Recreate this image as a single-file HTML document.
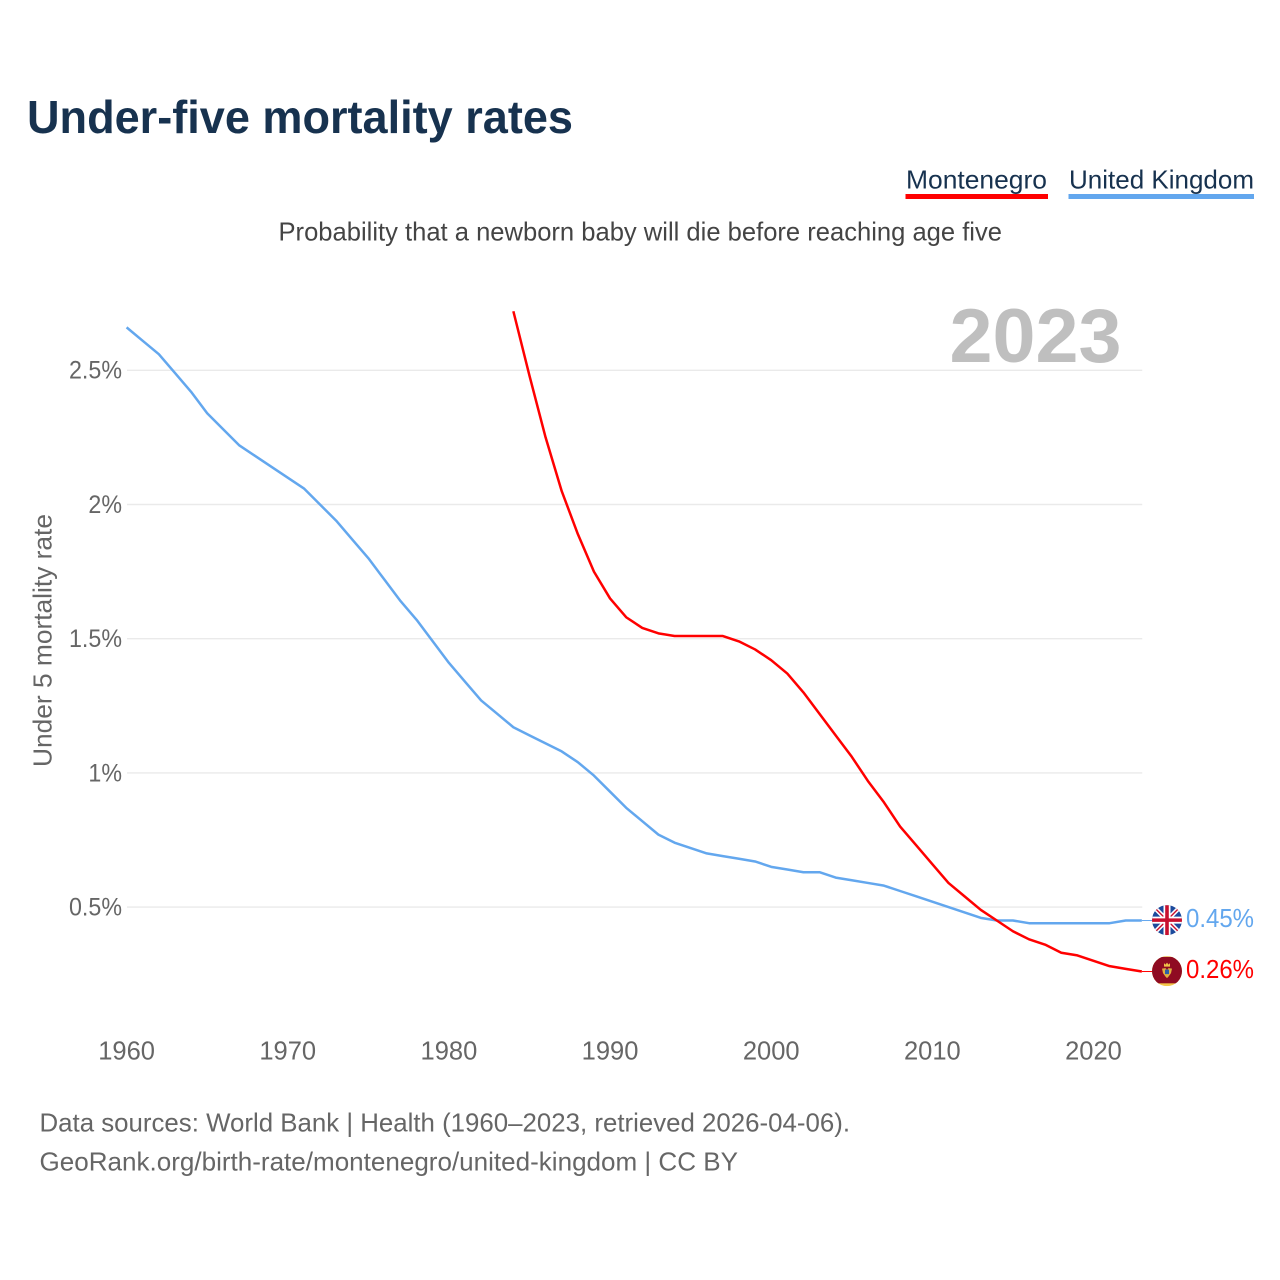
<!DOCTYPE html>
<html lang="en">
<head>
<meta charset="utf-8">
<title>Under-five mortality rates</title>
<style>
html,body{margin:0;padding:0;background:#fff;width:1280px;height:1280px;overflow:hidden}
svg{display:block}
text{font-family:"Liberation Sans",sans-serif}
</style>
</head>
<body>
<svg id="chart" xmlns="http://www.w3.org/2000/svg" width="1280" height="1280" viewBox="0 0 1280 1280">
  <defs>
    <clipPath id="clip-uk"><circle cx="0" cy="0" r="15"/></clipPath>
    <clipPath id="clip-me"><circle cx="0" cy="0" r="15"/></clipPath>
  </defs>
  <text x="27" y="133" font-size="46" font-weight="700" fill="#17324f" textLength="546" lengthAdjust="spacingAndGlyphs">Under-five mortality rates</text>

  <g>
    <text x="906" y="188.5" font-size="26" fill="#17324f" textLength="141" lengthAdjust="spacingAndGlyphs">Montenegro</text>
    <rect x="905.5" y="194" width="142.5" height="5" fill="#ff0000"/>
  </g>
  <g>
    <text x="1069" y="188.5" font-size="26" fill="#17324f" textLength="185" lengthAdjust="spacingAndGlyphs">United Kingdom</text>
    <rect x="1068.5" y="194" width="185.5" height="5" fill="#63a7ee"/>
  </g>

  <text x="278.5" y="240.5" font-size="26" fill="#444444" textLength="723.5" lengthAdjust="spacingAndGlyphs">Probability that a newborn baby will die before reaching age five</text>

  <g id="grid"></g>
  <text x="949.5" y="362" font-size="76" font-weight="700" fill="#bfbfbf" textLength="172" lengthAdjust="spacingAndGlyphs">2023</text>
  <g id="y-ticks"></g>
  <g id="x-ticks"></g>
  <text transform="translate(51.5,767) rotate(-90)" x="0" y="0" font-size="26" fill="#666666" textLength="253" lengthAdjust="spacingAndGlyphs">Under 5 mortality rate</text>
  <g id="series"></g>

  <g id="flag-uk">
    <g clip-path="url(#clip-uk)">
      <rect x="-15" y="-15" width="30" height="30" fill="#1c4a9c"/>
      <path d="M-15 -15L15 15M15 -15L-15 15" stroke="#ffffff" stroke-width="4.5"/>
      <path d="M-15 -15L15 15M15 -15L-15 15" stroke="#c8102e" stroke-width="1.4"/>
      <path d="M0 -15V15M-15 0H15" stroke="#ffffff" stroke-width="7"/>
      <path d="M0 -15V15M-15 0H15" stroke="#c8102e" stroke-width="3.6"/>
    </g>
  </g>
  <g id="flag-me">
    <g clip-path="url(#clip-me)">
      <rect x="-15" y="-15" width="30" height="30" fill="#f4c74a"/>
      <rect x="-15" y="-14.2" width="30" height="26.4" fill="#8f0b22"/>
      <path d="M-5 -2.5L-1.5 -3L0 -1L1.5 -3L5 -2.5L4 2L1.5 5.5L0 7L-1.5 5.5L-4 2Z" fill="#e0b040"/>
      <path d="M-3 -8L-1.5 -6.5L0 -8.5L1.5 -6.5L3 -8V-4.5H-3Z" fill="#efc24a"/>
      <rect x="-2" y="-1.5" width="4" height="4.5" fill="#2c5fa8"/>
    </g>
  </g>
  <g id="value-labels"></g>

  <text x="39.5" y="1131.5" font-size="26" fill="#666666" textLength="810.5" lengthAdjust="spacingAndGlyphs">Data sources: World Bank | Health (1960–2023, retrieved 2026-04-06).</text>
  <text x="39.5" y="1170.5" font-size="26" fill="#666666" textLength="698.5" lengthAdjust="spacingAndGlyphs">GeoRank.org/birth-rate/montenegro/united-kingdom | CC BY</text>
</svg>
<script>
const yTickValues = [0.5, 1, 1.5, 2, 2.5];
const yTickLabels = ["0.5%", "1%", "1.5%", "2%", "2.5%"];
const xTickValues = [1960, 1970, 1980, 1990, 2000, 2010, 2020];
const xTickLabels = ["1960", "1970", "1980", "1990", "2000", "2010", "2020"];
const ukStartYear = 1960;
const ukValues = [2.66,2.61,2.56,2.49,2.42,2.34,2.28,2.22,2.18,2.14,2.10,2.06,2.00,1.94,1.87,1.80,1.72,1.64,1.57,1.49,1.41,1.34,1.27,1.22,1.17,1.14,1.11,1.08,1.04,0.99,0.93,0.87,0.82,0.77,0.74,0.72,0.70,0.69,0.68,0.67,0.65,0.64,0.63,0.63,0.61,0.60,0.59,0.58,0.56,0.54,0.52,0.50,0.48,0.46,0.45,0.45,0.44,0.44,0.44,0.44,0.44,0.44,0.45,0.45];
const meStartYear = 1984;
const meValues = [2.72,2.48,2.25,2.05,1.89,1.75,1.65,1.58,1.54,1.52,1.51,1.51,1.51,1.51,1.49,1.46,1.42,1.37,1.30,1.22,1.14,1.06,0.97,0.89,0.80,0.73,0.66,0.59,0.54,0.49,0.45,0.41,0.38,0.36,0.33,0.32,0.30,0.28,0.27,0.26];

const NS = "http://www.w3.org/2000/svg";
const xScale = function (year) { return 126.6 + (year - 1960) * 16.115; };
const yScale = function (v) { return 907.1 - (v - 0.5) * 268.4; };
const X_END = xScale(2023);

function makeText(parent, x, y, size, fill, anchor, content) {
  const t = document.createElementNS(NS, "text");
  t.setAttribute("x", x);
  t.setAttribute("y", y);
  t.setAttribute("font-size", size);
  t.setAttribute("fill", fill);
  t.setAttribute("text-anchor", anchor);
  t.textContent = content;
  parent.appendChild(t);
  return t;
}

const grid = document.getElementById("grid");
const yTicks = document.getElementById("y-ticks");
yTickValues.forEach(function (v, i) {
  const l = document.createElementNS(NS, "line");
  
  
  l.setAttribute("x1", 127);
  l.setAttribute("x2", X_END + 0.4);
  l.setAttribute("y1", yScale(v));
  l.setAttribute("y2", yScale(v));
  l.setAttribute("stroke", "#eaeaea");
  l.setAttribute("stroke-width", 1.4);
  grid.appendChild(l);
  const t = makeText(yTicks, 122, yScale(v) + 8.4, 25, "#666666", "end", yTickLabels[i]);
  
  
  t.setAttribute("textLength", (t.getComputedTextLength() * 0.93).toFixed(1));
  t.setAttribute("lengthAdjust", "spacingAndGlyphs");
});

const xTicks = document.getElementById("x-ticks");
xTickValues.forEach(function (year, i) {
  const t = makeText(xTicks, xScale(year), 1059.3, 25.5, "#666666", "middle", xTickLabels[i]);
  
  
});

function linePath(values, startYear) {
  return values.map(function (v, i) {
    return (i ? "L" : "M") + xScale(startYear + i).toFixed(2) + " " + yScale(v).toFixed(2);
  }).join("");
}

const seriesGroup = document.getElementById("series");

const ukLine = document.createElementNS(NS, "path");


ukLine.setAttribute("d", linePath(ukValues, ukStartYear));
ukLine.setAttribute("fill", "none");
ukLine.setAttribute("stroke", "#63a7ee");
ukLine.setAttribute("stroke-width", 2.5);
ukLine.setAttribute("stroke-linejoin", "round");
seriesGroup.appendChild(ukLine);

const meLine = document.createElementNS(NS, "path");


meLine.setAttribute("d", linePath(meValues, meStartYear));
meLine.setAttribute("fill", "none");
meLine.setAttribute("stroke", "#ff0000");
meLine.setAttribute("stroke-width", 2.5);
meLine.setAttribute("stroke-linejoin", "round");
seriesGroup.appendChild(meLine);

const ukLast = ukValues[ukValues.length - 1];
const meLast = meValues[meValues.length - 1];

const ukConnector = document.createElementNS(NS, "line");


ukConnector.setAttribute("x1", X_END);
ukConnector.setAttribute("x2", 1153);
ukConnector.setAttribute("y1", yScale(ukLast));
ukConnector.setAttribute("y2", yScale(ukLast));
ukConnector.setAttribute("stroke", "#63a7ee");
ukConnector.setAttribute("stroke-width", 1);
seriesGroup.appendChild(ukConnector);

const meConnector = document.createElementNS(NS, "line");


meConnector.setAttribute("x1", X_END);
meConnector.setAttribute("x2", 1153);
meConnector.setAttribute("y1", yScale(meLast));
meConnector.setAttribute("y2", yScale(meLast));
meConnector.setAttribute("stroke", "#ff0000");
meConnector.setAttribute("stroke-width", 1);
seriesGroup.appendChild(meConnector);

document.getElementById("flag-uk").setAttribute("transform", "translate(1167," + (yScale(ukLast) - 0.4) + ")");
document.getElementById("flag-me").setAttribute("transform", "translate(1167," + (yScale(meLast) - 0.4) + ")");

const valueLabels = document.getElementById("value-labels");
const ukLabel = makeText(valueLabels, 1186, yScale(ukLast) + 6.4, 26, "#63a7ee", "start", ukLast.toFixed(2) + "%");


ukLabel.setAttribute("textLength", "68");
ukLabel.setAttribute("lengthAdjust", "spacingAndGlyphs");
const meLabel = makeText(valueLabels, 1186, yScale(meLast) + 6.4, 26, "#ff0000", "start", meLast.toFixed(2) + "%");


meLabel.setAttribute("textLength", "68");
meLabel.setAttribute("lengthAdjust", "spacingAndGlyphs");
</script>
</body>
</html>
